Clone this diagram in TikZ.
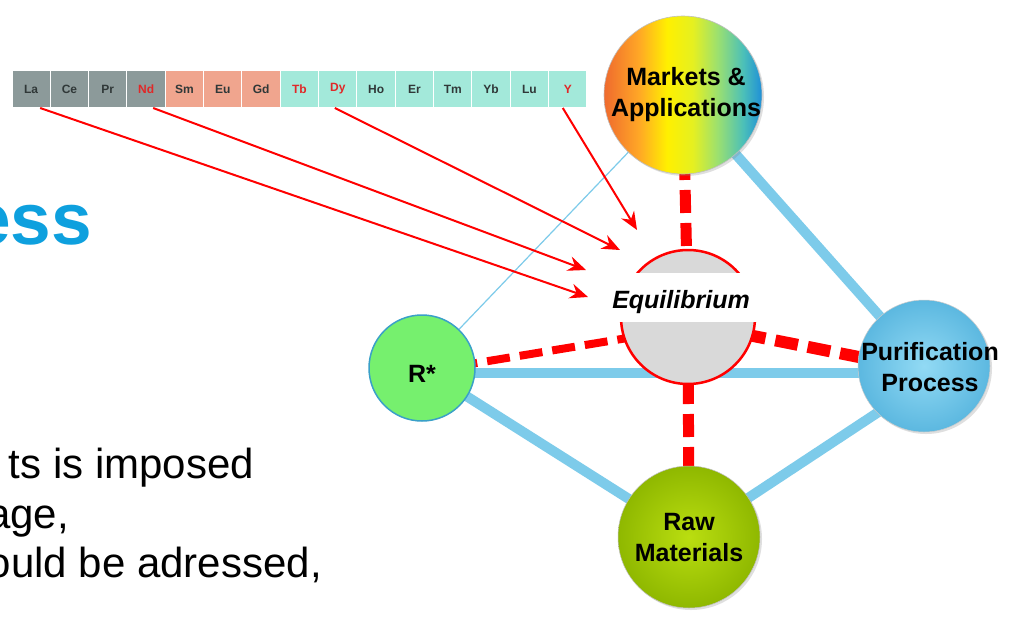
\documentclass[tikz,border=0pt]{standalone}
\usepackage{fontspec}
\setmainfont{Liberation Sans}
\usetikzlibrary{arrows.meta,shadows,backgrounds}
\definecolor{bluelink}{HTML}{7DCBEA}
\definecolor{redlink}{HTML}{FF0000}
\definecolor{cellgray}{HTML}{8C9A9A}
\definecolor{cellsalmon}{HTML}{F0A58E}
\definecolor{cellaqua}{HTML}{A3E9DA}
\definecolor{celltext}{HTML}{303838}
\definecolor{cellred}{HTML}{E02828}
\definecolor{titleblue}{HTML}{0EA0DE}
\definecolor{mkA}{HTML}{EF6A2E}
\definecolor{mkB}{HTML}{FFA726}
\definecolor{mkC}{HTML}{FFF000}
\definecolor{mkD}{HTML}{E6F020}
\definecolor{mkE}{HTML}{9BE070}
\definecolor{mkF}{HTML}{4CC0B8}
\definecolor{mkG}{HTML}{1E8FD8}
\definecolor{rawin}{HTML}{BADE10}
\definecolor{rawout}{HTML}{8FB800}
\definecolor{purin}{HTML}{92DAF4}
\definecolor{purout}{HTML}{5CB8E0}
\definecolor{rgreen}{HTML}{76F06E}
\definecolor{rborder}{HTML}{3AA0C8}
\pgfdeclarehorizontalshading{rainbow}{100bp}{color(0bp)=(mkA); color(25bp)=(mkA); color(36bp)=(mkB); color(45bp)=(mkC); color(53bp)=(mkD); color(61bp)=(mkE); color(69bp)=(mkF); color(75bp)=(mkG); color(100bp)=(mkG)}
\tikzset{
  cell/.style={draw=white, line width=1pt, minimum width=38.33pt, minimum height=37pt, inner sep=0pt,
     font=\fontsize{12}{14}\selectfont\bfseries, text=celltext},
  bluethick/.style={draw=bluelink, line width=10pt},
  bluethin/.style={draw=bluelink, line width=1.2pt},
  reddash/.style={draw=redlink, dash pattern=on 23pt off 10pt},
  redarrow/.style={draw=redlink, line width=2pt, -{Stealth[length=18pt,width=15pt,inset=6pt]}},
  ballnode/.style={circle, inner sep=0pt, drop shadow={opacity=0.25, shadow xshift=2pt, shadow yshift=-2pt}},
  lbl/.style={align=center, inner sep=0pt, font=\fontsize{25}{31}\selectfont\bfseries},
  body/.style={anchor=base east, inner sep=0pt, font=\fontsize{42}{50}\selectfont}
}
\begin{document}
\begin{tikzpicture}[x=1pt,y=-1pt]
\useasboundingbox (0,0) rectangle (1011,621);
\clip (0,0) rectangle (1011,621);

% left text fragments
\node[body, font=\fontsize{73}{80}\selectfont\bfseries, text=titleblue] (ess) at (92,244) {ess};
\node[body] (t1) at (254,478) {ts is imposed};
\node[body] (t2) at (69,528) {age,};
\node[body] (t3) at (322,577) {ould be adressed,};

% periodic table strip
\foreach \s/\c/\t [count=\i] in {La/cellgray/celltext, Ce/cellgray/celltext, Pr/cellgray/celltext, Nd/cellgray/cellred,
   Sm/cellsalmon/celltext, Eu/cellsalmon/celltext, Gd/cellsalmon/celltext, Tb/cellaqua/cellred, Dy/cellaqua/cellred,
   Ho/cellaqua/celltext, Er/cellaqua/celltext, Tm/cellaqua/celltext, Yb/cellaqua/celltext, Lu/cellaqua/celltext, Y/cellaqua/cellred}
  \node[cell, fill=\c, text=\t] (\s) at ({12+38.33*(\i-0.5)},89) {\s};

% main circles
\node[ballnode, minimum size=158pt, shading=rainbow, draw=black!25, line width=0.6pt] (M) at (683,95) {};
\node[circle, minimum size=134pt, fill=black!15, draw=redlink, line width=2.5pt] (E) at (688,317) {};
\node[circle, minimum size=106pt, fill=rgreen, draw=rborder, line width=1.5pt] (R) at (422,368) {};
\node[ballnode, minimum size=132pt, shading=radial, inner color=purin, outer color=purout, draw=black!20, line width=0.5pt] (P) at (924,366) {};
\node[ballnode, minimum size=142pt, shading=radial, inner color=rawin, outer color=rawout, draw=black!25, line width=0.5pt] (W) at (689,537) {};

% connectors behind the circles
\begin{scope}[on background layer]
  \fill[white] (0,0) rectangle (1011,621);
  \draw[bluethick] (M.center) -- (P.center);
  \draw[bluethick] ([yshift=-5pt]R.center) -- ([yshift=-7pt]P.center);
  \draw[bluethick] (R.center) -- (W.center);
  \draw[bluethick] (W.center) -- ([yshift=-16pt]P.center);
  \draw[bluethin] (R.center) -- (M.center);
  \draw[reddash, line width=11pt, dash phase=4pt] (M.center) -- (E.center);
  \draw[reddash, line width=11pt, dash phase=2pt] (E.center) -- (W.center);
  \draw[reddash, line width=8pt, dash phase=0pt] ([yshift=-4pt]R.center) -- ([yshift=-11pt]E.center);
  \draw[reddash, line width=12pt, dash phase=10pt] ([yshift=-6pt]E.center) -- ([yshift=-4pt]P.center);
\end{scope}

% equilibrium band and labels
\node[fill=white, minimum width=152pt, minimum height=49pt, inner sep=0pt] (band) at (688,297.5) {};
\node[anchor=base, inner sep=0pt, font=\fontsize{25}{31}\selectfont\bfseries\itshape] (Et) at (681,308) {Equilibrium};
\node[lbl] (Mt) at (686,95) {Markets \&\\Applications};
\node[lbl] (Pt) at (930,367) {Purification\\Process};
\node[lbl] (Wt) at (689,538) {Raw\\Materials};
\node[anchor=base, inner sep=0pt, font=\fontsize{25}{31}\selectfont\bfseries] (Rt) at (422,382) {R*};

% arrows from the table
\coordinate (aLa) at (588,297);
\coordinate (aNd) at (586,270);
\coordinate (aDy) at (620,250);
\coordinate (aY) at (637,230);
\draw[redarrow] ([xshift=9pt]La.south) -- (aLa);
\draw[redarrow] ([xshift=7pt]Nd.south) -- (aNd);
\draw[redarrow] ([xshift=-3pt]Dy.south) -- (aDy);
\draw[redarrow] ([xshift=-5pt]Y.south) -- (aY);
\end{tikzpicture}
\end{document}
